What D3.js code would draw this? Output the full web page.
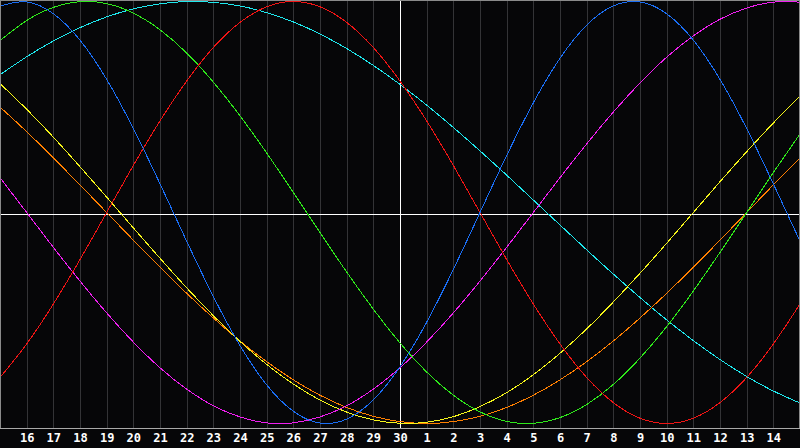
<!DOCTYPE html>
<html>
<head>
<meta charset="utf-8">
<script src="https://cdn.jsdelivr.net/npm/d3@7/dist/d3.min.js"></script>
<style>
  html, body { margin: 0; padding: 0; background: #060608; }
  svg { display: block; }
</style>
</head>
<body>
<svg id="chart" width="800" height="448"></svg>
<script>
// Day labels for each sample (one per day, x index 0..30)
const days = [15,16,17,18,19,20,21,22,23,24,25,26,27,28,29,30,1,2,3,4,5,6,7,8,9,10,11,12,13,14,15];

// Cycle values per day (-1 .. 1)
const physical = [0.979,0.998,0.942,0.817,0.631,0.398,0.136,-0.136,-0.398,-0.631,-0.817,-0.942,-0.998,-0.979,-0.888,-0.731,-0.520,-0.270,0,0.270,0.520,0.731,0.888,0.979,0.998,0.942,0.817,0.631,0.398,0.136,-0.136];
const emotional = [-0.782,-0.623,-0.434,-0.223,0,0.223,0.434,0.623,0.782,0.901,0.975,1,0.975,0.901,0.782,0.623,0.434,0.223,0,-0.223,-0.434,-0.623,-0.782,-0.901,-0.975,-1,-0.975,-0.901,-0.782,-0.623,-0.434];
const intellectual = [0.815,0.910,0.972,0.999,0.990,0.945,0.866,0.756,0.618,0.458,0.282,0.095,-0.095,-0.282,-0.458,-0.618,-0.756,-0.866,-0.945,-0.990,-0.999,-0.972,-0.910,-0.815,-0.690,-0.541,-0.372,-0.189,0,0.189,0.372];
const intuitive = [0.165,0,-0.165,-0.325,-0.476,-0.614,-0.736,-0.837,-0.916,-0.969,-0.997,-0.997,-0.969,-0.916,-0.837,-0.736,-0.614,-0.476,-0.325,-0.165,0,0.165,0.325,0.476,0.614,0.736,0.837,0.916,0.969,0.997,0.997];
const aesthetic = [0.611,0.489,0.357,0.217,0.073,-0.073,-0.217,-0.357,-0.489,-0.611,-0.720,-0.813,-0.889,-0.946,-0.983,-0.999,-0.994,-0.968,-0.920,-0.854,-0.769,-0.667,-0.552,-0.424,-0.288,-0.146,0,0.146,0.288,0.424,0.552];
const awareness = [0.5,0.383,0.259,0.131,0,-0.131,-0.259,-0.383,-0.5,-0.609,-0.707,-0.793,-0.866,-0.924,-0.966,-0.991,-1,-0.991,-0.966,-0.924,-0.866,-0.793,-0.707,-0.609,-0.5,-0.383,-0.259,-0.131,0,0.131,0.259];
const spiritual = [0.653,0.738,0.813,0.876,0.927,0.965,0.989,1.000,0.996,0.979,0.947,0.903,0.846,0.777,0.697,0.607,0.509,0.403,0.292,0.177,0.059,-0.059,-0.177,-0.292,-0.403,-0.509,-0.607,-0.697,-0.777,-0.846,-0.903];

const seriesList = [
  { name: "spiritual", values: spiritual, color: "#1ee8ee" },
  { name: "awareness", values: awareness, color: "#ff7f00" },
  { name: "aesthetic", values: aesthetic, color: "#f5f51a" },
  { name: "intuitive", values: intuitive, color: "#f01ef0" },
  { name: "intellectual", values: intellectual, color: "#2ee81a" },
  { name: "emotional", values: emotional, color: "#f01414" },
  { name: "physical", values: physical, color: "#1a6ef5" }
];

const W = 800, H = 448, plotBottom = 428;
const svg = d3.select("#chart");

const x = d3.scaleLinear().domain([0, days.length - 1]).range([0, W]);
const y = d3.scaleLinear().domain([-1, 1]).range([423.5, 1.5]);

svg.append("rect").attr("width", W).attr("height", H).attr("fill", "#060608");

// vertical day grid lines
const idx = d3.range(1, days.length - 1);
svg.append("g").selectAll("line").data(idx).join("line")
  .attr("x1", d => Math.round(x(d)) + 0.5).attr("x2", d => Math.round(x(d)) + 0.5)
  .attr("y1", 0).attr("y2", plotBottom)
  .attr("stroke", "#333336").attr("stroke-width", 1)
  .attr("shape-rendering", "crispEdges");

// center axes
svg.append("line")
  .attr("x1", 0).attr("x2", W).attr("y1", 214.5).attr("y2", 214.5)
  .attr("stroke", "#ffffff").attr("stroke-width", 1).attr("shape-rendering", "crispEdges");
svg.append("line")
  .attr("x1", Math.round(x(15)) + 0.5).attr("x2", Math.round(x(15)) + 0.5).attr("y1", 0).attr("y2", plotBottom)
  .attr("stroke", "#ffffff").attr("stroke-width", 1).attr("shape-rendering", "crispEdges");

// curves
const line = d3.line()
  .x((d, i) => x(i))
  .y(d => y(d))
  .curve(d3.curveNatural);

svg.append("g").selectAll("path").data(seriesList).join("path")
  .attr("d", s => line(s.values))
  .attr("fill", "none")
  .attr("stroke", s => s.color)
  .attr("stroke-width", 1)
  .attr("shape-rendering", "crispEdges");

// frame
svg.append("rect")
  .attr("x", 0.5).attr("y", 0.5).attr("width", W - 1).attr("height", plotBottom - 0.5)
  .attr("fill", "none").attr("stroke", "#8a8a8a").attr("stroke-width", 1)
  .attr("shape-rendering", "crispEdges");
svg.append("line")
  .attr("x1", 0).attr("x2", W).attr("y1", plotBottom + 0.5).attr("y2", plotBottom + 0.5)
  .attr("stroke", "#a8a8a8").attr("stroke-width", 1).attr("shape-rendering", "crispEdges");

// day labels
const xAxis = d3.axisBottom(x)
  .tickValues(idx)
  .tickFormat(i => days[i])
  .tickSize(0)
  .tickPadding(0);
const ax = svg.append("g").attr("transform", `translate(0, 432)`).call(xAxis);
ax.select(".domain").remove();
ax.selectAll("text")
  .attr("fill", "#ffffff")
  .attr("dy", "0.85em")
  .style("font-family", "'DejaVu Sans Mono', monospace")
  .style("font-weight", "bold")
  .style("font-size", "12px");
</script>
</body>
</html>
